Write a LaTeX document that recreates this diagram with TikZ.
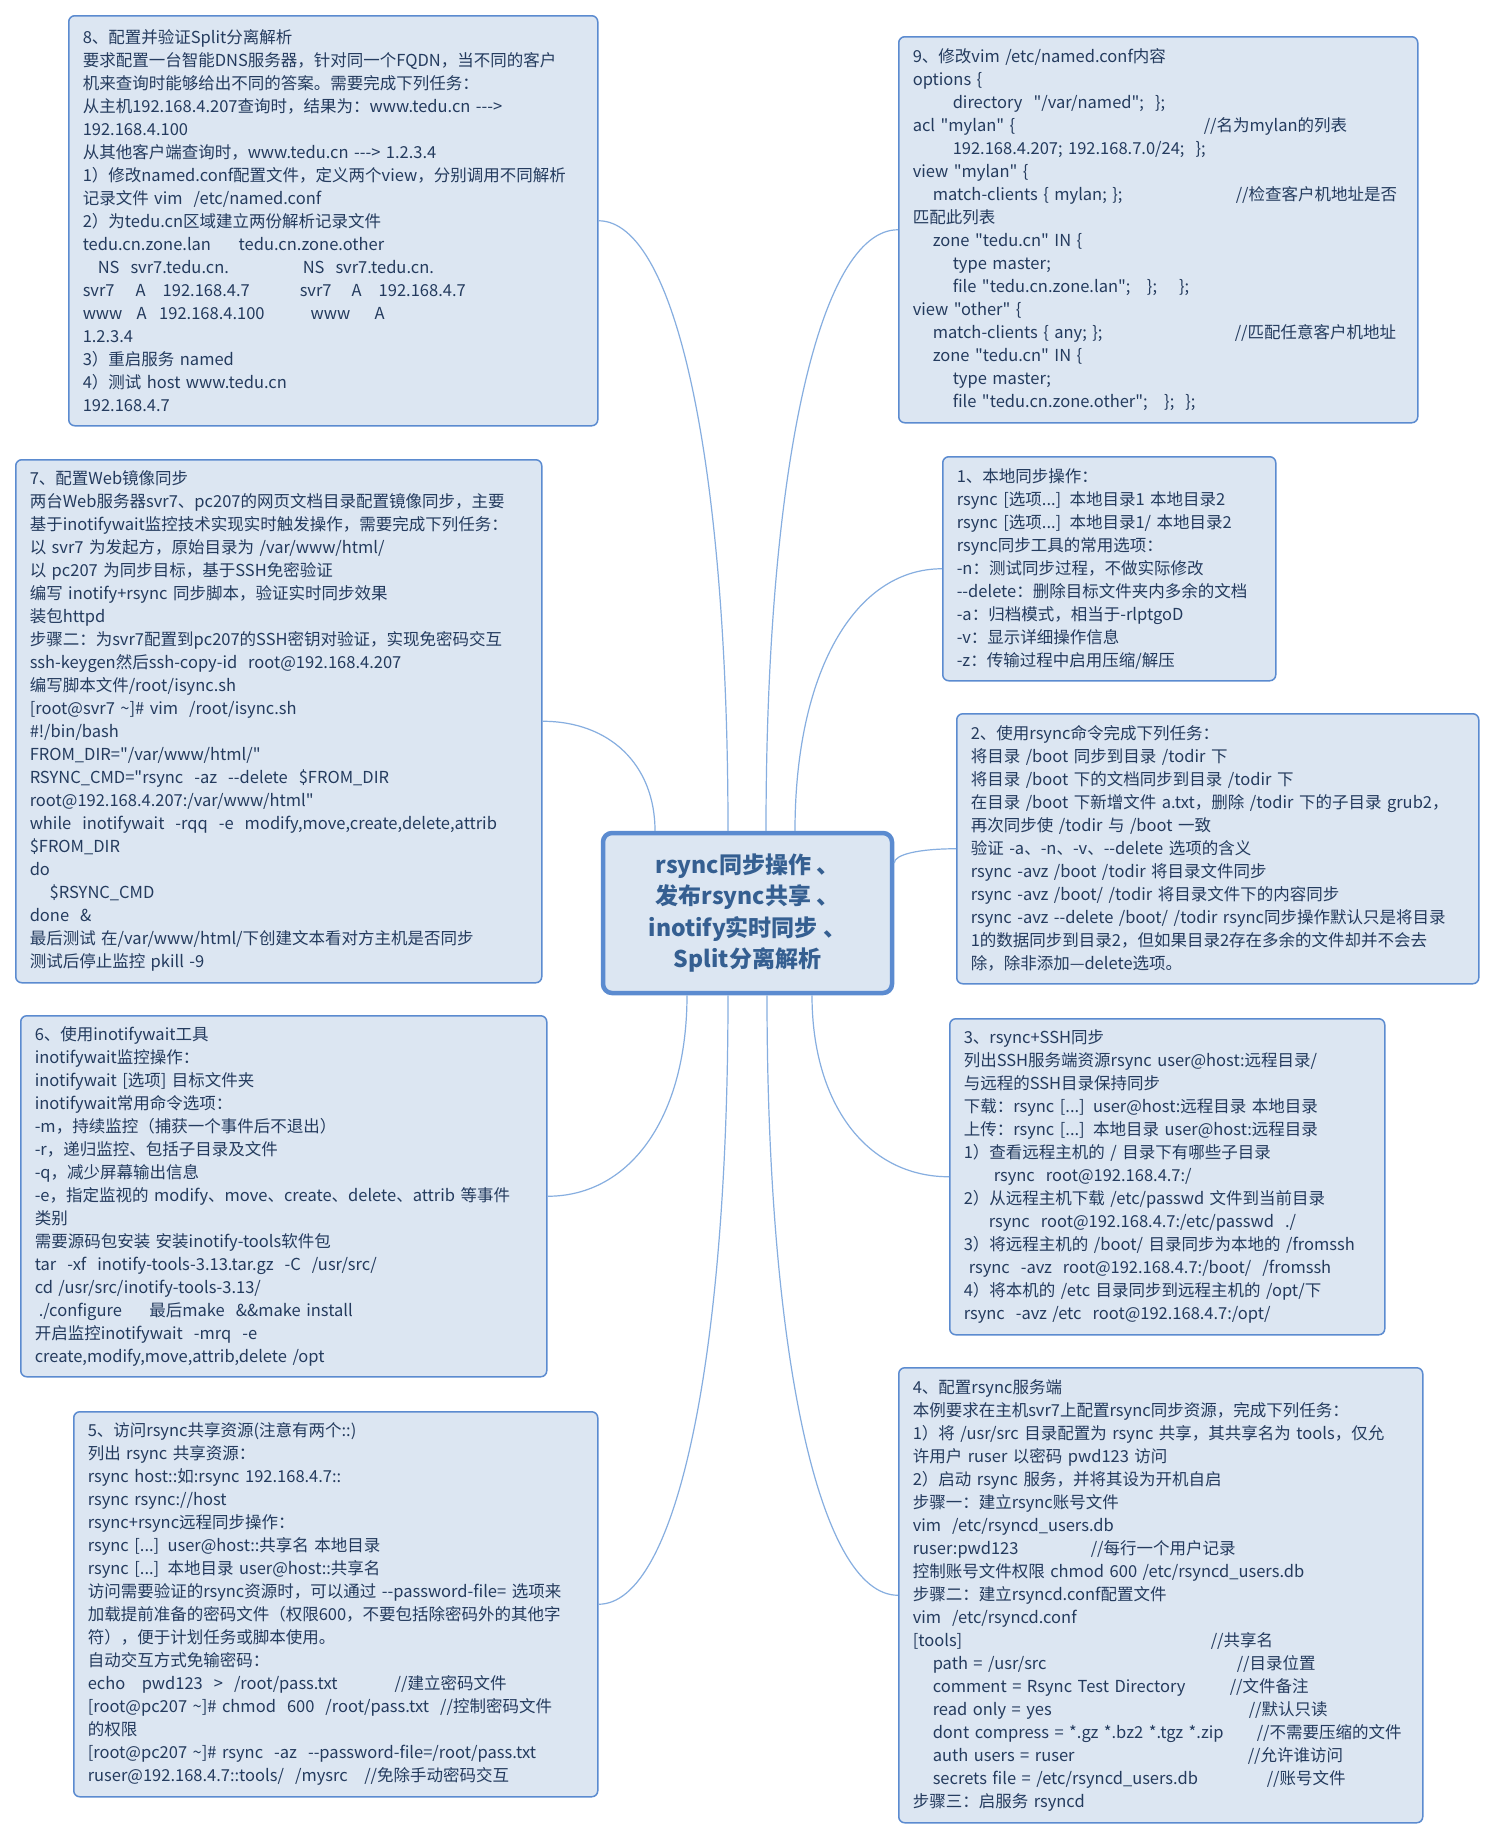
\documentclass[tikz,border=0pt]{standalone}
\usepackage{fontspec}
\usepackage{tikz}
\usetikzlibrary{positioning,calc}
\newfontfamily\cnfont{Noto Sans CJK SC}
\setlength{\parindent}{0pt}
\definecolor{clrBorders}{HTML}{5B8BD0}
\definecolor{clrFill}{HTML}{DCE6F2}
\definecolor{clrText}{HTML}{243B5E}
\definecolor{clrTitle}{HTML}{355F91}
\definecolor{clrLines}{HTML}{86AEE0}
\tikzstyle{box_style}=[draw=clrBorders, fill=clrFill, line width=1.5pt, rounded corners=6pt,
anchor=north west, align=left, text=clrText, inner xsep=14pt, inner ysep=0pt,
font=\cnfont\fontsize{16.5}{23}\selectfont]
\tikzstyle{center_style}=[draw=clrBorders, fill=clrFill, line width=4.5pt, rounded corners=9pt,
align=center, text=clrTitle, minimum width=289pt, minimum height=160pt,
font=\cnfont\bfseries\fontsize{23}{31.5}\selectfont]
\tikzstyle{branch}=[draw=clrLines, line width=1.2pt,
to path={.. controls ($(\tikztostart)!.6!(\tikztostart |- \tikztotarget)$)
and ($(\tikztotarget)!.6!(\tikztostart |- \tikztotarget)$) .. (\tikztotarget)}]
% column helper for aligned comments
\newcommand{\tb}[2]{\makebox[#1pt][l]{#2}}

\begin{document}
\begin{tikzpicture}[x=1pt,y=-1pt]
	\fill[white] (0,0) rectangle (1496,1840);
	\useasboundingbox (0,0) rectangle (1496,1840);

	\node[center_style] (A) at (747.5,913) {rsync同步操作 、\\发布rsync共享 、\\inotify实时同步 、\\Split分离解析} ;

	% right side
	\node[box_style, text width=305pt, minimum height=224pt] (B) at (942,456) {1、本地同步操作：\\
rsync [选项...] 本地目录1 本地目录2\\
rsync [选项...] 本地目录1/ 本地目录2\\
rsync同步工具的常用选项：\\
-n：测试同步过程，不做实际修改\\
--delete：删除目标文件夹内多余的文档\\
-a：归档模式，相当于-rlptgoD\\
-v：显示详细操作信息\\
-z：传输过程中启用压缩/解压} ;

	\node[box_style, text width=494pt, minimum height=270pt] (C) at (956,713) {2、使用rsync命令完成下列任务：\\
将目录 /boot 同步到目录 /todir 下\\
将目录 /boot 下的文档同步到目录 /todir 下\\
在目录 /boot 下新增文件 a.txt，删除 /todir 下的子目录 grub2，\\
再次同步使 /todir 与 /boot 一致\\
验证 -a、-n、-v、--delete 选项的含义\\
rsync -avz /boot /todir 将目录文件同步\\
rsync -avz /boot/ /todir 将目录文件下的内容同步\\
rsync~-avz~--delete~/boot/~/todir~rsync同步操作默认只是将目录\\
1的数据同步到目录2，但如果目录2存在多余的文件却并不会去\\
除，除非添加—delete选项。} ;

	\node[box_style, text width=407pt, minimum height=316pt] (D) at (949,1018) {3、rsync+SSH同步\\
列出SSH服务端资源rsync user@host:远程目录/\\
与远程的SSH目录保持同步\\
下载：rsync [...] user@host:远程目录 本地目录\\
上传：rsync [...] 本地目录 user@host:远程目录\\
1）查看远程主机的 / 目录下有哪些子目录\\
\hspace*{30pt}rsync~~root@192.168.4.7:/\\
2）从远程主机下载 /etc/passwd 文件到当前目录\\
\hspace*{25pt}rsync~~root@192.168.4.7:/etc/passwd~~./\\
3）将远程主机的~/boot/~目录同步为本地的~/fromssh\\
\hspace*{5pt}rsync~~-avz~~root@192.168.4.7:/boot/~~/fromssh\\
4）将本机的 /etc 目录同步到远程主机的 /opt/下\\
rsync~~-avz /etc~~root@192.168.4.7:/opt/} ;

	\node[box_style, text width=496pt, minimum height=455pt] (E) at (898,1367) {4、配置rsync服务端\\
本例要求在主机svr7上配置rsync同步资源，完成下列任务：\\
1）将~/usr/src~目录配置为~rsync~共享，其共享名为~tools，仅允\\
许用户 ruser 以密码 pwd123 访问\\
2）启动 rsync 服务，并将其设为开机自启\\
步骤一：建立rsync账号文件\\
vim~~/etc/rsyncd\_users.db\\
\tb{178}{ruser:pwd123}//每行一个用户记录\\
控制账号文件权限 chmod 600 /etc/rsyncd\_users.db\\
步骤二：建立rsyncd.conf配置文件\\
vim~~/etc/rsyncd.conf\\
\tb{298}{[tools]}//共享名\\
\hspace*{20pt}\tb{304}{path = /usr/src}//目录位置\\
\hspace*{20pt}\tb{297}{comment = Rsync Test Directory}//文件备注\\
\hspace*{20pt}\tb{316}{read only = yes}//默认只读\\
\hspace*{20pt}\tb{324}{dont compress = *.gz *.bz2 *.tgz *.zip}//不需要压缩的文件\\
\hspace*{20pt}\tb{315}{auth users = ruser}//允许谁访问\\
\hspace*{20pt}\tb{334}{secrets file = /etc/rsyncd\_users.db}//账号文件\\
步骤三：启服务 rsyncd} ;

	\node[box_style, text width=491pt, minimum height=386pt] (J) at (898,36) {9、修改vim /etc/named.conf内容\\
options \{\\
\hspace*{40pt}directory~~"/var/named";~~\};\\
\tb{291}{acl "mylan" \{}//名为mylan的列表\\
\hspace*{40pt}192.168.4.207; 192.168.7.0/24;~~\};\\
view "mylan" \{\\
\hspace*{20pt}\tb{303}{match-clients \{ mylan; \};}//检查客户机地址是否\\
匹配此列表\\
\hspace*{20pt}zone "tedu.cn" IN \{\\
\hspace*{40pt}type master;\\
\hspace*{40pt}file "tedu.cn.zone.lan";~~~\};~~~~\};\\
view "other" \{\\
\hspace*{20pt}\tb{302}{match-clients \{ any; \};}//匹配任意客户机地址\\
\hspace*{20pt}zone "tedu.cn" IN \{\\
\hspace*{40pt}type master;\\
\hspace*{40pt}file "tedu.cn.zone.other";~~~\};~~\};} ;

	% left side
	\node[box_style, text width=501pt, minimum height=410pt] (I) at (68,15) {8、配置并验证Split分离解析\\
要求配置一台智能DNS服务器，针对同一个FQDN，当不同的客户\\
机来查询时能够给出不同的答案。需要完成下列任务：\\
从主机192.168.4.207查询时，结果为：www.tedu.cn --->\\
192.168.4.100\\
从其他客户端查询时，www.tedu.cn ---> 1.2.3.4\\
1）修改named.conf配置文件，定义两个view，分别调用不同解析\\
记录文件 vim~~/etc/named.conf\\
2）为tedu.cn区域建立两份解析记录文件\\
\tb{156}{tedu.cn.zone.lan}tedu.cn.zone.other\\
\hspace*{15pt}\tb{205}{NS~~svr7.tedu.cn.}NS~~svr7.tedu.cn.\\
\tb{53}{svr7}\tb{27}{A}\tb{137}{192.168.4.7}\tb{52}{svr7}\tb{27}{A}192.168.4.7\\
\tb{54}{www}\tb{22.5}{A}\tb{151.5}{192.168.4.100}\tb{64}{www}A\\
1.2.3.4\\
3）重启服务 named\\
4）测试 host www.tedu.cn\\
192.168.4.7} ;

	\node[box_style, text width=498pt, minimum height=523pt] (H) at (15,459) {7、配置Web镜像同步\\
两台Web服务器svr7、pc207的网页文档目录配置镜像同步，主要\\
基于inotifywait监控技术实现实时触发操作，需要完成下列任务：\\
以 svr7 为发起方，原始目录为 /var/www/html/\\
以 pc207 为同步目标，基于SSH免密验证\\
编写 inotify+rsync 同步脚本，验证实时同步效果\\
装包httpd\\
步骤二：为svr7配置到pc207的SSH密钥对验证，实现免密码交互\\
ssh-keygen然后ssh-copy-id~~root@192.168.4.207\\
编写脚本文件/root/isync.sh\\
{[}root@svr7 \textasciitilde]\# vim~~/root/isync.sh\\
\#!/bin/bash\\
FROM\_DIR="/var/www/html/"\\
RSYNC\_CMD="rsync~~-az~~--delete~~\$FROM\_DIR\\
root@192.168.4.207:/var/www/html"\\
while~~inotifywait~~-rqq~~-e~~modify,move,create,delete,attrib\\
\$FROM\_DIR\\
do\\
\hspace*{20pt}\$RSYNC\_CMD\\
done~~\&\\
最后测试 在/var/www/html/下创建文本看对方主机是否同步\\
测试后停止监控 pkill -9} ;

	\node[box_style, text width=498pt, minimum height=361pt] (G) at (20,1015) {6、使用inotifywait工具\\
inotifywait监控操作：\\
inotifywait [选项] 目标文件夹\\
inotifywait常用命令选项：\\
-m，持续监控（捕获一个事件后不退出）\\
-r，递归监控、包括子目录及文件\\
-q，减少屏幕输出信息\\
-e，指定监视的~modify、move、create、delete、attrib~等事件\\
类别\\
需要源码包安装 安装inotify-tools软件包\\
tar~~-xf~~inotify-tools-3.13.tar.gz~~-C~~/usr/src/\\
cd /usr/src/inotify-tools-3.13/\\
\hspace*{4pt}./configure~~~~~最后make~~\&\&make install\\
开启监控inotifywait~~-mrq~~-e\\
create,modify,move,attrib,delete /opt} ;

	\node[box_style, text width=496pt, minimum height=385pt] (F) at (73,1411) {5、访问rsync共享资源(注意有两个::)\\
列出 rsync 共享资源：\\
rsync host::如:rsync 192.168.4.7::\\
rsync rsync://host\\
rsync+rsync远程同步操作：\\
rsync [...] user@host::共享名 本地目录\\
rsync [...] 本地目录 user@host::共享名\\
访问需要验证的rsync资源时，可以通过~--password-file=~选项来\\
加载提前准备的密码文件（权限600，不要包括除密码外的其他字\\
符），便于计划任务或脚本使用。\\
自动交互方式免输密码：\\
\tb{307}{echo~~~pwd123~~>~~/root/pass.txt}//建立密码文件\\
{[}root@pc207~\textasciitilde]\#~chmod~~600~~/root/pass.txt~~//控制密码文件\\
的权限\\
{[}root@pc207~\textasciitilde]\#~rsync~~-az~~--password-file=/root/pass.txt\\
ruser@192.168.4.7::tools/~~/mysrc~~~//免除手动密码交互} ;

	% connectors
	\draw[branch] ([xshift=-92.5pt]A.north) to (H.east) ;
	\draw[branch] ([xshift=-19.5pt]A.north) to (I.east) ;
	\draw[branch] ([xshift=18.5pt]A.north) to (J.west) ;
	\draw[branch] ([xshift=47.5pt]A.north) to (B.west) ;
	\draw[branch] ([yshift=50pt]A.east) to (C.west) ;
	\draw[branch] ([xshift=64.5pt]A.south) to (D.west) ;
	\draw[branch] ([xshift=19.5pt]A.south) to (E.west) ;
	\draw[branch] ([xshift=-19.5pt]A.south) to (F.east) ;
	\draw[branch] ([xshift=-60.5pt]A.south) to (G.east) ;
\end{tikzpicture}
\end{document}
